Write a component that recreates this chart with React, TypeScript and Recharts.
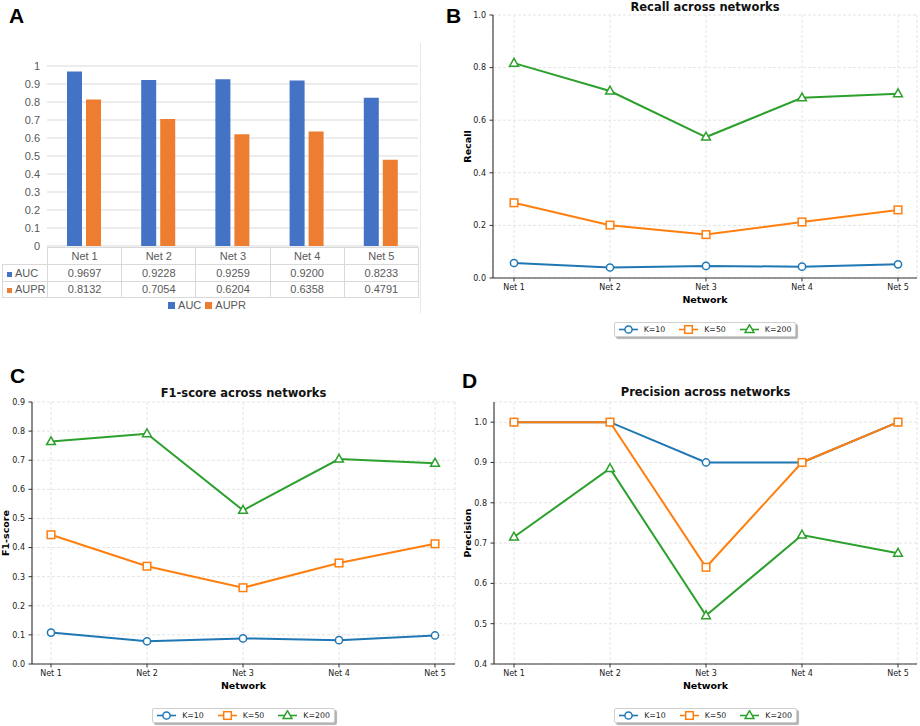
import React from "react";
import {
  BarChart,
  Bar,
  LineChart,
  Line,
  XAxis,
  YAxis,
  CartesianGrid,
  Legend,
} from "recharts";

const networks = ["Net 1", "Net 2", "Net 3", "Net 4", "Net 5"];

// panel A
const aucValues = [0.9697, 0.9228, 0.9259, 0.92, 0.8233];
const auprValues = [0.8132, 0.7054, 0.6204, 0.6358, 0.4791];
const barTicks = [0, 0.1, 0.2, 0.3, 0.4, 0.5, 0.6, 0.7, 0.8, 0.9, 1];

// panel B
const recallK10 = [0.057, 0.04, 0.046, 0.043, 0.052];
const recallK50 = [0.286, 0.201, 0.165, 0.213, 0.259];
const recallK200 = [0.817, 0.711, 0.536, 0.685, 0.701];
const recallTicks = [0, 0.2, 0.4, 0.6, 0.8, 1.0];

// panel C
const f1K10 = [0.108, 0.078, 0.088, 0.082, 0.098];
const f1K50 = [0.444, 0.336, 0.262, 0.347, 0.413];
const f1K200 = [0.764, 0.791, 0.528, 0.704, 0.69];
const f1Ticks = [0, 0.1, 0.2, 0.3, 0.4, 0.5, 0.6, 0.7, 0.8, 0.9];

// panel D
const precisionK10 = [1.0, 1.0, 0.9, 0.9, 1.0];
const precisionK50 = [1.0, 1.0, 0.64, 0.9, 1.0];
const precisionK200 = [0.715, 0.885, 0.52, 0.72, 0.675];
const precisionTicks = [0.4, 0.5, 0.6, 0.7, 0.8, 0.9, 1.0];

const kLabels = ["K=10", "K=50", "K=200"];

const SERIES = [
  { key: "k10", label: kLabels[0], color: "#1f77b4", shape: "circle" },
  { key: "k50", label: kLabels[1], color: "#ff7f0e", shape: "square" },
  { key: "k200", label: kLabels[2], color: "#2ca02c", shape: "triangle" },
];

const MPL = '"DejaVu Sans", sans-serif';
const XL = '"Liberation Sans", Arial, sans-serif';

const barData = networks.map((name, i) => ({
  name,
  auc: aucValues[i],
  aupr: auprValues[i],
}));

const makeRows = (a: number[], b: number[], c: number[]) =>
  networks.map((name, i) => ({ name, k10: a[i], k50: b[i], k200: c[i] }));

function Marker({ shape, color, cx, cy }: any) {
  if (shape === "circle")
    return <circle cx={cx} cy={cy} r={3.6} fill="#fff" stroke={color} strokeWidth={1.5} />;
  if (shape === "square")
    return (
      <rect x={cx - 3.8} y={cy - 3.8} width={7.6} height={7.6} fill="#fff" stroke={color} strokeWidth={1.5} />
    );
  return (
    <polygon
      points={`${cx},${cy - 4.8} ${cx - 4.4},${cy + 3} ${cx + 4.4},${cy + 3}`}
      fill="#fff"
      stroke={color}
      strokeWidth={1.5}
    />
  );
}

function KLegend() {
  return (
    <div style={{ display: "flex", justifyContent: "center" }}>
      <div
        style={{
          display: "flex",
          alignItems: "center",
          height: 15,
          padding: "0 4px",
          boxSizing: "border-box",
          border: "1px solid #cfcfcf",
          borderRadius: 2,
          background: "#fff",
          boxShadow: "2px 2px 1px rgba(0,0,0,0.3)",
          fontFamily: MPL,
          fontSize: 7.8,
          color: "#222",
        }}
      >
        {SERIES.map((s, i) => (
          <div key={s.key} style={{ display: "flex", alignItems: "center", marginLeft: i ? 14 : 0 }}>
            <svg width={19} height={11}>
              <line x1={0} y1={5.5} x2={19} y2={5.5} stroke={s.color} strokeWidth={1.6} />
              <Marker shape={s.shape} color={s.color} cx={9.5} cy={5.5} />
            </svg>
            <span style={{ marginLeft: 6 }}>{s.label}</span>
          </div>
        ))}
      </div>
    </div>
  );
}

function MetricPanel(p: any) {
  const width = 460;
  const xAxisH = 30;
  return (
    <>
      <div
        style={{
          position: "absolute",
          left: p.plotLeft,
          width: p.plotRight - p.plotLeft,
          top: p.titleY - 7,
          lineHeight: "14px",
          textAlign: "center",
          fontFamily: MPL,
          fontWeight: "bold",
          fontSize: 11.5,
          color: "#111",
        }}
      >
        {p.title}
      </div>
      <div style={{ position: "absolute", left: p.boxLeft, top: p.boxTop }}>
        <LineChart
          width={width}
          height={p.boxHeight}
          data={p.data}
          margin={{
            top: p.plotTop - p.boxTop,
            right: p.boxLeft + width - p.plotRight,
            left: 0,
            bottom: p.boxTop + p.boxHeight - p.plotBottom - xAxisH,
          }}
        >
          <CartesianGrid stroke="#e4e4e4" strokeDasharray="3 2" />
          <XAxis
            dataKey="name"
            scale="point"
            interval={0}
            padding={{ left: p.padL, right: p.padR }}
            height={xAxisH}
            tickSize={3.5}
            tickMargin={2.5}
            axisLine={{ stroke: "#333", strokeWidth: 1.1 }}
            tickLine={{ stroke: "#333" }}
            tick={{ fontSize: 8, fill: "#222", fontFamily: MPL }}
            label={{
              value: "Network",
              position: "insideBottom",
              offset: 5,
              style: { fontWeight: "bold", fontSize: 9.5, fill: "#000", fontFamily: MPL },
            }}
          />
          <YAxis
            type="number"
            domain={p.domain}
            ticks={p.ticks}
            interval={0}
            allowDataOverflow
            width={p.plotLeft - p.boxLeft}
            tickSize={3.5}
            tickMargin={3.5}
            axisLine={{ stroke: "#333", strokeWidth: 1.1 }}
            tickLine={{ stroke: "#333" }}
            tick={{ fontSize: 8, fill: "#222", fontFamily: MPL }}
            tickFormatter={(v: number) => v.toFixed(1)}
            label={{
              value: p.yLabel,
              angle: -90,
              position: "insideLeft",
              offset: p.yLabelX - p.boxLeft,
              style: { textAnchor: "middle", fontWeight: "bold", fontSize: 9.5, fill: "#000", fontFamily: MPL },
            }}
          />
          {SERIES.map((s) => (
            <Line
              key={s.key}
              dataKey={s.key}
              stroke={s.color}
              strokeWidth={2}
              isAnimationActive={false}
              activeDot={false}
              dot={(d: any) => (
                <Marker key={`${s.key}-${d.index}`} shape={s.shape} color={s.color} cx={d.cx} cy={d.cy} />
              )}
            />
          ))}
          <Legend
            verticalAlign="middle"
            content={() => <KLegend />}
            wrapperStyle={{
              top: p.legendTop - p.boxTop,
              left: p.plotLeft - p.boxLeft,
              width: p.plotRight - p.plotLeft,
            }}
          />
        </LineChart>
      </div>
    </>
  );
}

function PanelLetter({ text, x, y }: any) {
  return (
    <div
      style={{
        position: "absolute",
        left: x,
        top: y,
        fontFamily: XL,
        fontWeight: "bold",
        fontSize: 21,
        lineHeight: 1,
        color: "#000",
      }}
    >
      {text}
    </div>
  );
}

const cell: React.CSSProperties = {
  border: "1px solid #d9d9d9",
  padding: 0,
  textAlign: "center",
  lineHeight: "15px",
  whiteSpace: "nowrap",
  overflow: "hidden",
  background: "#fff",
};

function AucPanel() {
  const swatch = (c: string, s: number) => (
    <span style={{ display: "inline-block", width: s, height: s, background: c, marginRight: 3 }} />
  );
  return (
    <>
      <div style={{ position: "absolute", left: 420, top: 43, width: 1, height: 270, background: "#e6e6e6" }} />
      <div style={{ position: "absolute", left: 0, top: 0 }}>
        <BarChart
          width={420}
          height={262}
          data={barData}
          margin={{ top: 66, right: 2, bottom: 16, left: 0 }}
          barGap={4}
        >
          <CartesianGrid vertical={false} stroke="#d9d9d9" />
          <XAxis dataKey="name" hide />
          <YAxis
            domain={[0, 1]}
            ticks={barTicks}
            interval={0}
            width={47}
            axisLine={false}
            tickLine={false}
            tickMargin={1}
            tick={{ fill: "#595959", fontSize: 11, fontFamily: XL }}
            tickFormatter={(v: number) => String(Math.round(v * 10) / 10)}
          />
          <Bar dataKey="auc" fill="#4472C4" barSize={15} isAnimationActive={false} />
          <Bar dataKey="aupr" fill="#ED7D31" barSize={15} isAnimationActive={false} />
        </BarChart>
      </div>
      <table
        style={{
          position: "absolute",
          left: 2,
          top: 247,
          width: 416,
          borderCollapse: "collapse",
          tableLayout: "fixed",
          fontFamily: XL,
          fontSize: 11,
          color: "#595959",
        }}
      >
        <colgroup>
          <col style={{ width: 45 }} />
          {networks.map((n) => (
            <col key={n} style={{ width: 74.2 }} />
          ))}
        </colgroup>
        <tbody>
          <tr style={{ height: 17 }}>
            <td style={{ border: "none", padding: 0 }} />
            {networks.map((n) => (
              <td key={n} style={cell}>
                {n}
              </td>
            ))}
          </tr>
          <tr style={{ height: 17 }}>
            <td style={{ ...cell, textAlign: "left", paddingLeft: 4 }}>
              {swatch("#4472C4", 5)}AUC
            </td>
            {aucValues.map((v, i) => (
              <td key={i} style={cell}>
                {v.toFixed(4)}
              </td>
            ))}
          </tr>
          <tr style={{ height: 16 }}>
            <td style={{ ...cell, textAlign: "left", paddingLeft: 4 }}>
              {swatch("#ED7D31", 5)}AUPR
            </td>
            {auprValues.map((v, i) => (
              <td key={i} style={cell}>
                {v.toFixed(4)}
              </td>
            ))}
          </tr>
        </tbody>
      </table>
      <div
        style={{
          position: "absolute",
          left: 0,
          width: 414,
          top: 298,
          display: "flex",
          justifyContent: "center",
          alignItems: "center",
          fontFamily: XL,
          fontSize: 11,
          color: "#595959",
          lineHeight: "14px",
        }}
      >
        {swatch("#4472C4", 7)}
        <span style={{ marginRight: 4 }}>AUC</span>
        {swatch("#ED7D31", 7)}
        <span>AUPR</span>
      </div>
    </>
  );
}

export default function App() {
  return (
    <div
      style={{
        position: "absolute",
        left: 0,
        top: 0,
        width: 920,
        height: 726,
        background: "#fff",
        overflow: "hidden",
      }}
    >
      <AucPanel />
      <MetricPanel
        title="Recall across networks"
        yLabel="Recall"
        data={makeRows(recallK10, recallK50, recallK200)}
        domain={[0, 1]}
        ticks={recallTicks}
        boxLeft={460}
        boxTop={0}
        boxHeight={345}
        plotLeft={493}
        plotRight={917}
        plotTop={15}
        plotBottom={278}
        padL={21}
        padR={19}
        yLabelX={468}
        titleY={6.5}
        legendTop={322}
      />
      <MetricPanel
        title="F1-score across networks"
        yLabel="F1-score"
        data={makeRows(f1K10, f1K50, f1K200)}
        domain={[0, 0.9]}
        ticks={f1Ticks}
        boxLeft={0}
        boxTop={360}
        boxHeight={366}
        plotLeft={32}
        plotRight={455}
        plotTop={402}
        plotBottom={664}
        padL={19}
        padR={20}
        yLabelX={6}
        titleY={392.5}
        legendTop={708}
      />
      <MetricPanel
        title="Precision across networks"
        yLabel="Precision"
        data={makeRows(precisionK10, precisionK50, precisionK200)}
        domain={[0.4, 1.05]}
        ticks={precisionTicks}
        boxLeft={460}
        boxTop={360}
        boxHeight={366}
        plotLeft={494}
        plotRight={917}
        plotTop={402}
        plotBottom={664}
        padL={20}
        padR={19}
        yLabelX={468}
        titleY={392}
        legendTop={708}
      />
      <PanelLetter text="A" x={9} y={5} />
      <PanelLetter text="B" x={446} y={5} />
      <PanelLetter text="C" x={10} y={365} />
      <PanelLetter text="D" x={462} y={370} />
    </div>
  );
}
